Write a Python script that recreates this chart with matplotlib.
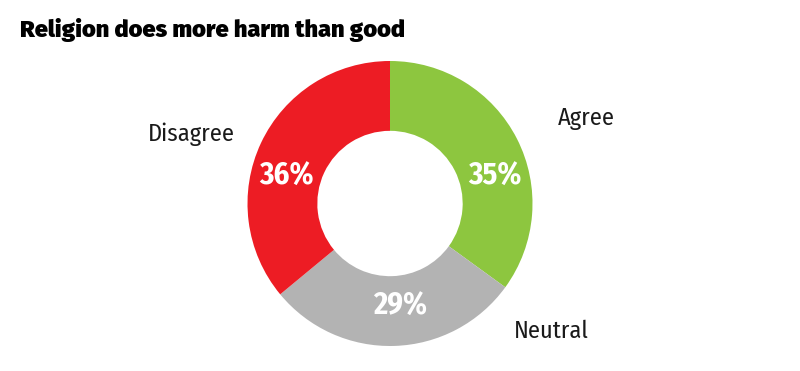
import matplotlib
matplotlib.use("Agg")
import matplotlib.pyplot as plt

categories = ["Agree", "Neutral", "Disagree"]
values = [35, 29, 36]
pct_labels = ["35%", "29%", "36%"]
colors = ["#8DC63F", "#B3B3B3", "#ED1C24"]
title = "Religion does more harm than good"

font = ["Fira Sans Condensed", "DejaVu Sans"]
title_font = ["Fira Sans", "DejaVu Sans"]

W, H = 800, 371
fig = plt.figure(figsize=(W / 100, H / 100), dpi=100)
cx, cy, r = 390, 203.5, 142.5
ax = fig.add_axes([(cx - r) / W, (H - cy - r) / H, 2 * r / W, 2 * r / H])
wedges, _ = ax.pie(values, colors=colors, startangle=90, counterclock=False,
                   radius=1.0, wedgeprops=dict(width=0.49, edgecolor="none"))
ax.set_xlim(-1, 1)
ax.set_ylim(-1, 1)
ax.set_aspect("equal")
ax.axis("off")

def px(x, y):
    return x / W, 1 - y / H

pct_pos = [(495, 177), (400, 307), (286, 177)]
for lab, (x, y) in zip(pct_labels, pct_pos):
    fig.text(*px(x, y), lab, ha="center", va="center", color="white",
             fontsize=22, fontweight="bold", family=font)

cat_pos = [(586, 118), (551, 331), (191, 134)]
for lab, (x, y) in zip(categories, cat_pos):
    fig.text(*px(x, y), lab, ha="center", va="center", color="#1a1a1a",
             fontsize=17.5, family=font)

fig.text(*px(20, 30), title, ha="left", va="center", fontsize=17,
         fontweight="black", family=title_font, color="black")

fig.savefig("out.png", dpi=100, facecolor="white")
